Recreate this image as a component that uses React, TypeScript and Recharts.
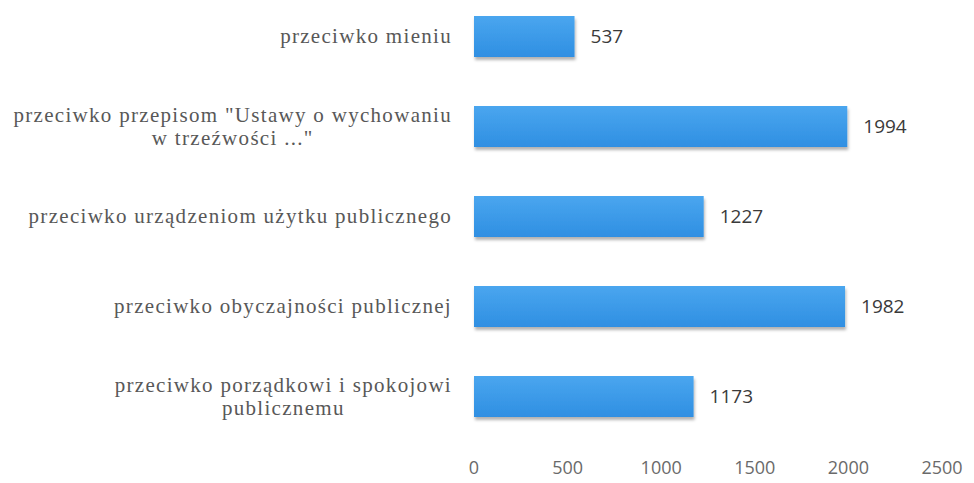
import React from 'react';
import { BarChart, Bar, XAxis, YAxis, LabelList } from 'recharts';

// categories top to bottom, "\n" marks a line break in the axis label
const categories = [
  'przeciwko mieniu',
  'przeciwko przepisom "Ustawy o wychowaniu\nw trzeźwości ..."',
  'przeciwko urządzeniom użytku publicznego',
  'przeciwko obyczajności publicznej',
  'przeciwko porządkowi i spokojowi\npublicznemu',
];
const counts = [537, 1994, 1227, 1982, 1173];
const xTicks = [0, 500, 1000, 1500, 2000, 2500];

const data = categories.map((name, i) => ({ name, value: counts[i] }));

const LABEL_FONT = '21px "Liberation Serif"';
const SPACING = 1.3;
let ctx: CanvasRenderingContext2D | null = null;
const textWidth = (t: string) => {
  if (!ctx) ctx = document.createElement('canvas').getContext('2d');
  if (!ctx) return t.length * 10;
  ctx.font = LABEL_FONT;
  return ctx.measureText(t).width + t.length * SPACING;
};

const CategoryTick = (props: any) => {
  const { x, y, payload } = props;
  const lines: string[] = String(payload.value).split('\n');
  const blockW = Math.max(...lines.map(textWidth));
  const cx = x - blockW / 2;
  const lh = 23;
  const y0 = y - ((lines.length - 1) * lh) / 2;
  return (
    <g>
      {lines.map((l, i) => (
        <text
          key={i}
          x={cx}
          y={y0 + i * lh}
          dy="0.35em"
          textAnchor="middle"
          fontFamily='"Liberation Serif", serif'
          fontSize={21}
          letterSpacing={SPACING}
          fill="#585858"
        >
          {l}
        </text>
      ))}
    </g>
  );
};

const BarShape = (props: any) => {
  const { x, y, width, height } = props;
  return (
    <rect x={x} y={y} width={width} height={height} fill="url(#barFill)" filter="url(#barShadow)" />
  );
};

export default function App() {
  return (
    <div style={{ position: 'absolute', left: 0, top: -9, background: '#fff' }}>
      <BarChart
        width={974}
        height={492}
        data={data}
        layout="vertical"
        margin={{ top: 0, right: 32, bottom: 0, left: 0 }}
        barSize={41}
      >
        <defs>
          <linearGradient id="barFill" x1="0" y1="0" x2="0" y2="1">
            <stop offset="0%" stopColor="#4aa6ef" />
            <stop offset="100%" stopColor="#2f8fe2" />
          </linearGradient>
          <filter id="barShadow" x="-5%" y="-20%" width="110%" height="160%">
            <feDropShadow dx="1" dy="3" stdDeviation="1.5" floodColor="#000" floodOpacity="0.3" />
          </filter>
        </defs>
        <XAxis
          type="number"
          domain={[0, 2500]}
          ticks={xTicks}
          height={42}
          axisLine={false}
          tickLine={false}
          tickMargin={14}
          tick={{ fill: '#6a6a6a', fontSize: 18, fontFamily: '"Open Sans", sans-serif' }}
        />
        <YAxis
          type="category"
          dataKey="name"
          width={474}
          axisLine={false}
          tickLine={false}
          tickMargin={16}
          interval={0}
          tick={<CategoryTick />}
        />
        <Bar dataKey="value" isAnimationActive={false} shape={<BarShape />}>
          <LabelList
            dataKey="value"
            position="right"
            offset={16}
            fill="#3a3a3a"
            fontSize={19}
            fontFamily='"Open Sans", sans-serif'
          />
        </Bar>
      </BarChart>
    </div>
  );
}
